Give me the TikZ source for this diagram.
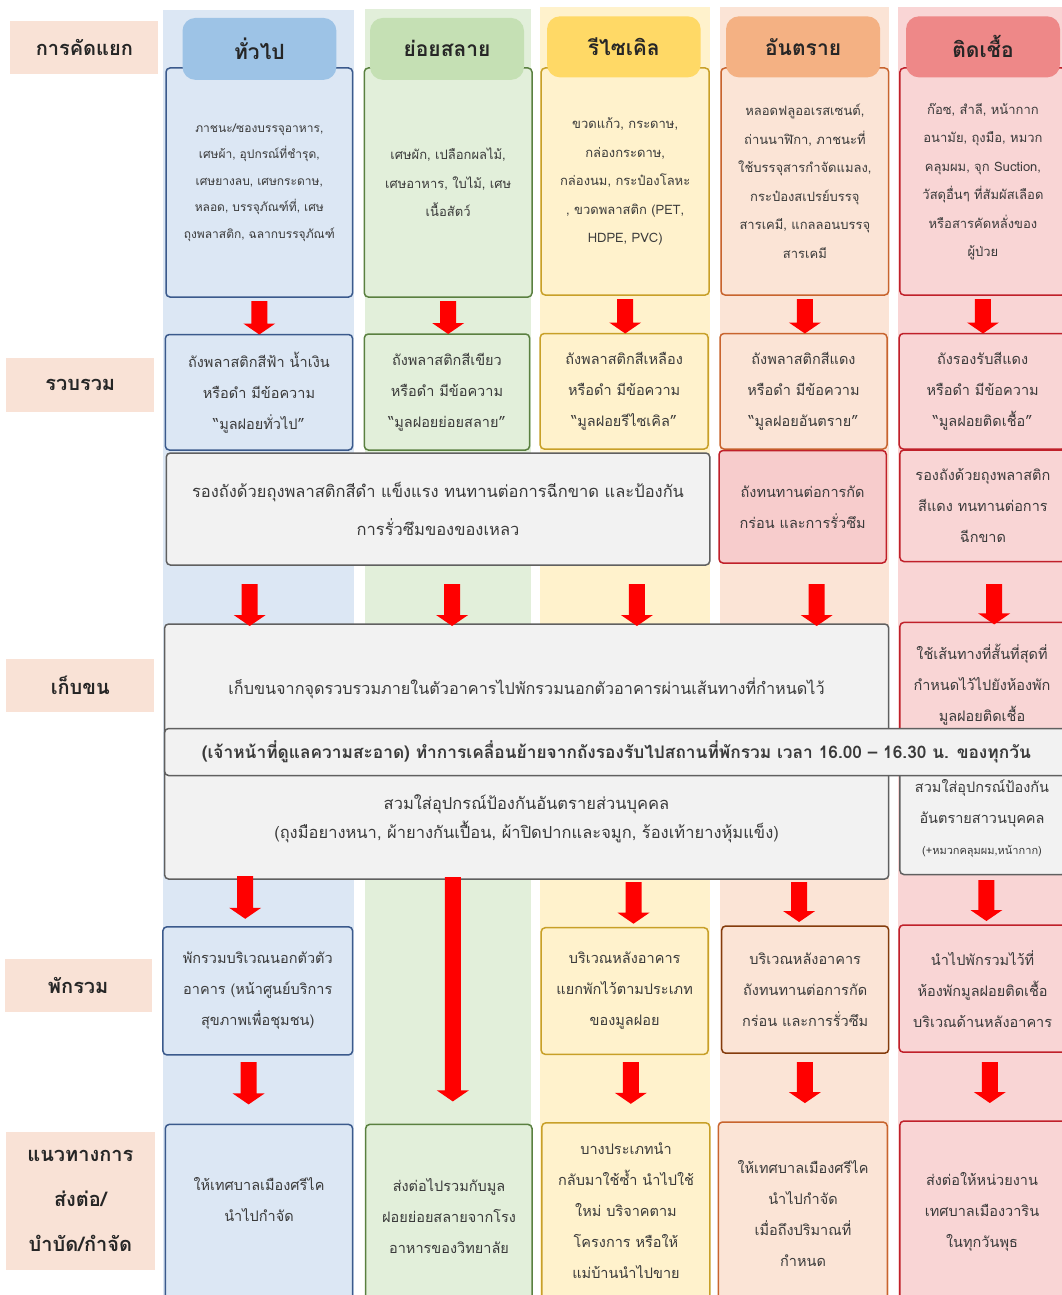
\documentclass[tikz,border=0pt]{standalone}
\usepackage{fontspec}
\setmainfont[Script=Thai]{Loma}
\usetikzlibrary{calc}
\definecolor{bBand}{HTML}{DCE7F4}
\definecolor{bTab}{HTML}{9DC3E6}
\definecolor{bLine}{HTML}{3B5A8C}
\definecolor{gBand}{HTML}{E2EFDA}
\definecolor{gTab}{HTML}{C5E0B4}
\definecolor{gLine}{HTML}{5A8040}
\definecolor{yBand}{HTML}{FFF2CC}
\definecolor{yTab}{HTML}{FFD966}
\definecolor{yLine}{HTML}{C8A028}
\definecolor{oBand}{HTML}{FBE4D6}
\definecolor{oTab}{HTML}{F4B183}
\definecolor{oLine}{HTML}{C8642E}
\definecolor{oDark}{HTML}{843C0C}
\definecolor{pBand}{HTML}{F9D5D5}
\definecolor{pTab}{HTML}{EE8888}
\definecolor{pLine}{HTML}{C0202A}
\definecolor{pBox}{HTML}{F7CCCC}
\definecolor{labc}{HTML}{F9E2D6}
\definecolor{grayF}{HTML}{F2F2F2}
\definecolor{grayL}{HTML}{606060}
\definecolor{txtc}{HTML}{3A3A3A}
\definecolor{arrc}{HTML}{FF0000}
\newcommand\bx[7][]{\node[#1, minimum width={(#5-#3)*1pt}, minimum height={(#6-#4)*1pt}, inner sep=0pt, outer sep=0pt] (#2) at ({(#3+#5)/2},{(#4+#6)/2}) {#7};}
\tikzset{
  band/.style={fill=#1, draw=none},
  tabnode/.style={fill=#1, draw=none, rounded corners=13pt, font=\bfseries\fontsize{21}{25}\selectfont, text=black!85},
  lbl/.style={fill=labc, draw=none, font=\bfseries\fontsize{20}{45}\selectfont, text=black!85, align=center},
  cbox/.style={draw=#1, line width=1.5pt, rounded corners=4pt, align=center, text=txtc},
  gbox/.style={draw=grayL, fill=grayF, line width=1.5pt, rounded corners=4pt, align=center, text=txtc},
  txt/.style={align=center, text=txtc, inner sep=0pt},
  fA/.style={font=\fontsize{13}{28.5}\selectfont},
  fB/.style={font=\fontsize{14.5}{31}\selectfont},
  fC/.style={font=\fontsize{16.5}{38}\selectfont},
  blockarrow/.style={fill=arrc, draw=none, to path={let \p1=(\tikztostart), \p2=(\tikztotarget) in ({\x1-8pt},\y1) -- ({\x1+8pt},\y1) -- ({\x1+8pt},{\y2+11pt}) -- ({\x1+16pt},{\y2+11pt}) -- (\x1,\y2) -- ({\x1-16pt},{\y2+11pt}) -- ({\x1-8pt},{\y2+11pt}) -- cycle}}
}
\begin{document}
\begin{tikzpicture}[x=1pt,y=-1pt]
\useasboundingbox[fill=white] (0,0) rectangle (1062,1295);
% column bands
\fill[bBand] (162.9,9.6) rectangle (354,1300);
\fill[gBand] (365,9) rectangle (531,1300);
\fill[yBand] (540.2,7.5) rectangle (709.8,1300);
\fill[oBand] (720,7.5) rectangle (889,1300);
\fill[pBand] (898.2,7.5) rectangle (1070,1300);
% row labels
\bx[lbl]{L1}{10.3}{20.7}{158.4}{74}{การคัดแยก}
\bx[lbl]{L2}{6.2}{358.2}{154.3}{412.2}{รวบรวม}
\bx[lbl]{L3}{6.2}{658.5}{154.3}{711.9}{เก็บขน}
\bx[lbl]{L4}{4.5}{958.8}{151.9}{1012.2}{พักรวม}
\bx[lbl]{L5}{6.2}{1132.3}{154.6}{1270}{แนวทางการ\\ส่งต่อ/\\บำบัด/กำจัด}
% row 1 boxes
\bx[cbox=bLine, fill=bBand, font=\fontsize{12}{26.5}\selectfont]{r1c1}{166}{68}{352.6}{297}{ภาชนะ/ซองบรรจุอาหาร,\\เศษผ้า, อุปกรณ์ที่ชำรุด,\\เศษยางลบ, เศษกระดาษ,\\หลอด, บรรจุภัณฑ์ที่, เศษ\\ถุงพลาสติก, ฉลากบรรจุภัณฑ์}
\bx[cbox=gLine, fill=gBand, fA]{r1c2}{364.3}{68}{532}{297}{เศษผัก, เปลือกผลไม้,\\เศษอาหาร, ใบไม้, เศษ\\เนื้อสัตว์}
\bx[cbox=yLine, fill=yBand, fA]{r1c3}{541.2}{68}{709.2}{295}{ขวดแก้ว, กระดาษ,\\กล่องกระดาษ,\\กล่องนม, กระป๋องโลหะ\\, ขวดพลาสติก (PET,\\HDPE, PVC)}
\bx[cbox=oLine, fill=oBand, fA]{r1c4}{721}{68}{888.7}{295}{หลอดฟลูออเรสเซนต์,\\ถ่านนาฬิกา, ภาชนะที่\\ใช้บรรจุสารกำจัดแมลง,\\กระป๋องสเปรย์บรรจุ\\สารเคมี, แกลลอนบรรจุ\\สารเคมี}
\bx[cbox=pLine, fill=pBand, fA]{r1c5}{899.9}{68}{1066}{295}{ก๊อซ, สำลี, หน้ากาก\\อนามัย, ถุงมือ, หมวก\\คลุมผม, จุก Suction,\\วัสดุอื่นๆ ที่สัมผัสเลือด\\หรือสารคัดหลั่งของ\\ผู้ป่วย}
% header tabs
\bx[tabnode=bTab]{h1}{182.5}{17.9}{336.4}{79.9}{ทั่วไป}
\bx[tabnode=gTab]{h2}{370}{17.9}{524}{79.9}{ย่อยสลาย}
\bx[tabnode=yTab]{h3}{547}{16.3}{700.7}{77.4}{รีไซเคิล}
\bx[tabnode=oTab]{h4}{726}{16.3}{880.2}{77.4}{อันตราย}
\bx[tabnode=pTab]{h5}{906}{16.3}{1060}{77.4}{ติดเชื้อ}
% row 2 boxes
\bx[cbox=bLine, fill=bBand, fB]{r2c1}{165.3}{334.5}{352.6}{450}{ถังพลาสติกสีฟ้า น้ำเงิน\\หรือดำ มีข้อความ\\“มูลฝอยทั่วไป”}
\bx[cbox=gLine, fill=gBand, fB]{r2c2}{364.3}{334}{529.6}{450}{ถังพลาสติกสีเขียว\\หรือดำ มีข้อความ\\“มูลฝอยย่อยสลาย”}
\bx[cbox=yLine, fill=yBand, fB]{r2c3}{540.2}{333.5}{708.1}{449}{ถังพลาสติกสีเหลือง\\หรือดำ มีข้อความ\\“มูลฝอยรีไซเคิล”}
\bx[cbox=oLine, fill=oBand, fB]{r2c4}{720}{333.5}{887}{449}{ถังพลาสติกสีแดง\\หรือดำ มีข้อความ\\“มูลฝอยอันตราย”}
\bx[cbox=pLine, fill=pBand, fB]{r2c5}{899.2}{333.5}{1066}{449}{ถังรองรับสีแดง\\หรือดำ มีข้อความ\\“มูลฝอยติดเชื้อ”}
% row 2b
\bx[gbox, fC]{r2big}{166.3}{453}{709.8}{565}{รองถังด้วยถุงพลาสติกสีดำ แข็งแรง ทนทานต่อการฉีกขาด และป้องกัน\\การรั่วซึมของของเหลว}
\bx[cbox=pLine, fill=pBox, fB]{r2b4}{719}{450.5}{886.3}{563}{ถังทนทานต่อการกัด\\กร่อน และการรั่วซึม}
\bx[cbox=pLine, fill=pBand, fB]{r2b5}{899.9}{450}{1066}{561.5}{รองถังด้วยถุงพลาสติก\\สีแดง ทนทานต่อการ\\ฉีกขาด}
% row 1 -> row 2 arrows
\path[blockarrow] ([yshift=-4pt]r1c1.south) to (r1c1.south |- r2c1.north);
\path[blockarrow] ([yshift=-4pt]r1c2.south) to (r1c2.south |- r2c2.north);
\path[blockarrow] ([yshift=-4pt]r1c3.south) to (r1c3.south |- r2c3.north);
\path[blockarrow] ([yshift=-4pt]r1c4.south) to (r1c4.south |- r2c4.north);
\path[blockarrow] ([yshift=-4pt]r1c5.south) to (r1c5.south |- r2c5.north);
% collection
\bx[gbox]{coll}{164.6}{624}{888.7}{879}{}
\bx[cbox=pLine, fill=pBand]{c5top}{899.9}{622.4}{1066}{745}{}
\bx[gbox]{c5low}{899.9}{760}{1066}{874.5}{}
\node[txt, font=\fontsize{16.2}{20}\selectfont] (tcoll) at (526.5,688.5) {เก็บขนจากจุดรวบรวมภายในตัวอาคารไปพักรวมนอกตัวอาคารผ่านเส้นทางที่กำหนดไว้};
\node[txt, fB] (tc5top) at (982,684.5) {ใช้เส้นทางที่สั้นที่สุดที่\\กำหนดไว้ไปยังห้องพัก\\มูลฝอยติดเชื้อ};
\bx[gbox, font=\bfseries\fontsize{17.3}{20}\selectfont]{bandrow}{164.6}{728.5}{1068}{775.5}{(เจ้าหน้าที่ดูแลความสะอาด) ทำการเคลื่อนย้ายจากถังรองรับไปสถานที่พักรวม เวลา 16.00 – 16.30 น. ของทุกวัน}
\node[txt, font=\fontsize{16.5}{29.5}\selectfont] (tcolllow) at (526.5,818.5) {สวมใส่อุปกรณ์ป้องกันอันตรายส่วนบุคคล\\(ถุงมือยางหนา, ผ้ายางกันเปื้อน, ผ้าปิดปากและจมูก, ร้องเท้ายางหุ้มแข็ง)};
\node[txt, fB] (tc5low) at (982,818) {สวมใส่อุปกรณ์ป้องกัน\\อันตรายสาวนบุคคล\\{\fontsize{11}{20}\selectfont(+หมวกคลุมผม,หน้ากาก)}};
% row 2b -> collection arrows
\coordinate (a3x1) at (249.7,584);
\coordinate (a3x2) at (452.1,584);
\coordinate (a3x3) at (636.9,584);
\coordinate (a3x4) at (816.7,584);
\coordinate (a3x5) at (994.2,584);
\path[blockarrow] (a3x1) to ($(a3x1 |- coll.north)+(0,2)$);
\path[blockarrow] (a3x2) to ($(a3x2 |- coll.north)+(0,2)$);
\path[blockarrow] (a3x3) to ($(a3x3 |- coll.north)+(0,2)$);
\path[blockarrow] (a3x4) to ($(a3x4 |- coll.north)+(0,2)$);
\path[blockarrow] (a3x5) to ($(a3x5 |- c5top.north)+(0,2)$);
% row 4
\bx[cbox=bLine, fill=bBand, fB]{r4c1}{162.9}{926.8}{352.6}{1054.9}{พักรวมบริเวณนอกตัวตัว\\อาคาร (หน้าศูนย์บริการ\\สุขภาพเพื่อชุมชน)}
\bx[cbox=yLine, fill=yBand, fB]{r4c3}{541.2}{927.7}{708.1}{1054.3}{บริเวณหลังอาคาร\\แยกพักไว้ตามประเภท\\ของมูลฝอย}
\bx[cbox=oDark, fill=oBand, fB]{r4c4}{721.7}{926}{888.7}{1053.2}{บริเวณหลังอาคาร\\ถังทนทานต่อการกัด\\กร่อน และการรั่วซึม}
\bx[cbox=pLine, fill=pBand, fB]{r4c5}{899.2}{925}{1066}{1052.2}{นำไปพักรวมไว้ที่\\ห้องพักมูลฝอยติดเชื้อ\\บริเวณด้านหลังอาคาร}
% row 5
\bx[cbox=bLine, fill=bBand]{r5c1}{165.3}{1124.4}{352.6}{1310}{}
\bx[cbox=gLine, fill=gBand]{r5c2}{365.7}{1124.4}{532}{1310}{}
\bx[cbox=yLine, fill=yBand]{r5c3}{541.9}{1122.8}{709.8}{1310}{}
\bx[cbox=oLine, fill=oBand]{r5c4}{718.3}{1122.1}{887.3}{1310}{}
\bx[cbox=pLine, fill=pBand]{r5c5}{899.9}{1121}{1066}{1310}{}
\node[txt, fB] (t5c1) at (259,1199.5) {ให้เทศบาลเมืองศรีไค\\นำไปกำจัด};
\node[txt, fB] (t5c2) at (449,1215.6) {ส่งต่อไปรวมกับมูล\\ฝอยย่อยสลายจากโรง\\อาหารของวิทยาลัย};
\node[txt, fB] (t5c3) at (626,1211) {บางประเภทนำ\\กลับมาใช้ซ้ำ นำไปใช้\\ใหม่ บริจาคตาม\\โครงการ หรือให้\\แม่บ้านนำไปขาย};
\node[txt, fB] (t5c4) at (803,1213.5) {ให้เทศบาลเมืองศรีไค\\นำไปกำจัด\\เมื่อถึงปริมาณที่\\กำหนด};
\node[txt, fB] (t5c5) at (982,1212) {ส่งต่อให้หน่วยงาน\\เทศบาลเมืองวาริน\\ในทุกวันพุธ};
% collection -> row 4 arrows
\coordinate (a4x1) at (245.2,876);
\coordinate (a4x2) at (452.8,877);
\coordinate (a4x3) at (633.5,882);
\coordinate (a4x4) at (799.1,882);
\coordinate (a4x5) at (986.4,880);
\path[blockarrow] (a4x1) to ($(a4x1 |- r4c1.north)+(0,-8)$);
\path[blockarrow] (a4x2) to ($(a4x2 |- r5c2.north)+(0,-23)$);
\path[blockarrow] (a4x3) to ($(a4x3 |- r4c3.north)+(0,-4)$);
\path[blockarrow] (a4x4) to ($(a4x4 |- r4c4.north)+(0,-4)$);
\path[blockarrow] (a4x5) to ($(a4x5 |- r4c5.north)+(0,-4)$);
% row 4 -> row 5 arrows
\coordinate (a5x1) at (248.6,1062);
\coordinate (a5x3) at (630.8,1062);
\coordinate (a5x4) at (804.9,1062);
\coordinate (a5x5) at (989.8,1062);
\path[blockarrow] (a5x1) to ($(a5x1 |- r5c1.north)+(0,-20)$);
\path[blockarrow] (a5x3) to ($(a5x3 |- r5c3.north)+(0,-19)$);
\path[blockarrow] (a5x4) to ($(a5x4 |- r5c4.north)+(0,-19)$);
\path[blockarrow] (a5x5) to ($(a5x5 |- r5c5.north)+(0,-18)$);
\end{tikzpicture}
\end{document}
